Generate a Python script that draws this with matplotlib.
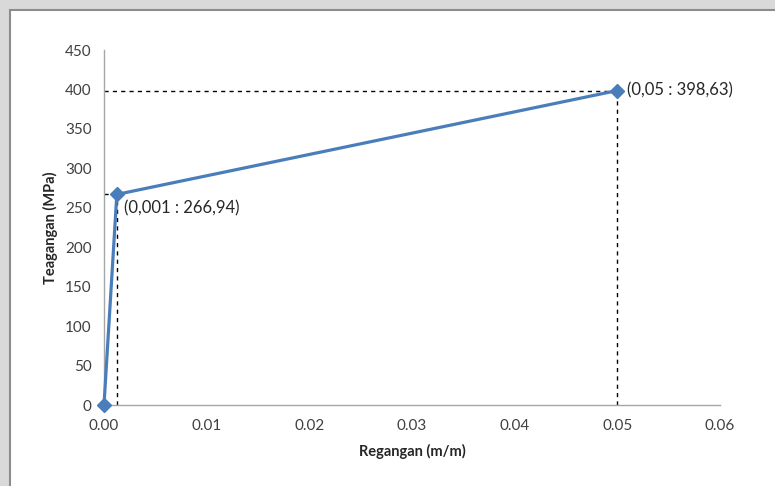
import matplotlib
matplotlib.use("Agg")
import matplotlib.pyplot as plt
from matplotlib.patches import Rectangle

strain = [0.0, 0.00125, 0.0500]
stress = [0.0, 266.94, 398.63]
labels = ["", "(0,001 : 266,94)", "(0,05 : 398,63)"]
xticks = [0.00, 0.01, 0.02, 0.03, 0.04, 0.05, 0.06]
yticks = [0, 50, 100, 150, 200, 250, 300, 350, 400, 450]

plt.rcParams['font.family'] = ['Liberation Sans Narrow', 'Lato', 'DejaVu Sans']

fig = plt.figure(figsize=(7.75, 4.86), dpi=100)
fig.patch.set_facecolor('#d9d9d9')

bg = fig.add_axes([0, 0, 1, 1], zorder=-10)
bg.set_xlim(0, 775)
bg.set_ylim(486, 0)
bg.axis('off')
bg.add_patch(Rectangle((10, 10), 780, 490, facecolor='white', edgecolor='#8c8c8c', linewidth=1.5))

ax = fig.add_axes([104/775, 1 - 405/486, (720 - 104)/775, (405 - 50)/486], zorder=1)
ax.set_facecolor('none')
ax.set_xlim(0, 0.06)
ax.set_ylim(0, 450)

for x, y in zip(strain[1:], stress[1:]):
    ax.plot([0, x], [y, y], color='black', linestyle=(0, (3, 3)), linewidth=1, zorder=2)
    ax.plot([x, x], [0, y], color='black', linestyle=(0, (3, 3)), linewidth=1, zorder=2)

ax.plot(strain, stress, color='#4a7ebb', linewidth=2.3, marker='D', markersize=7.5,
        markerfacecolor='#4a7ebb', markeredgecolor='#4a7ebb', zorder=3, clip_on=False)

ax.annotate(labels[1], (strain[1], stress[1]), xytext=(5, -4), textcoords='offset points',
            ha='left', va='top', fontsize=12, color='#262626')
ax.annotate(labels[2], (strain[2], stress[2]), xytext=(7, 0), textcoords='offset points',
            ha='left', va='center', fontsize=12, color='#262626')

ax.set_xticks(xticks)
ax.set_xticklabels([f"{v:.2f}" for v in xticks])
ax.set_yticks(yticks)
ax.tick_params(axis='both', length=0, labelsize=11, labelcolor='#404040')
ax.tick_params(axis='x', pad=10)
ax.tick_params(axis='y', pad=9)
for s in ['top', 'right']:
    ax.spines[s].set_visible(False)
for s in ['left', 'bottom']:
    ax.spines[s].set_color('#a6a6a6')
    ax.spines[s].set_linewidth(1)

ax.set_xlabel('Regangan (m/m)', fontsize=10.5, fontweight='bold', color='#262626', labelpad=8)
ax.set_ylabel('Teagangan (MPa)', fontsize=10.5, fontweight='bold', color='#262626', labelpad=5)

fig.savefig('out.png', dpi=100, facecolor=fig.get_facecolor())
